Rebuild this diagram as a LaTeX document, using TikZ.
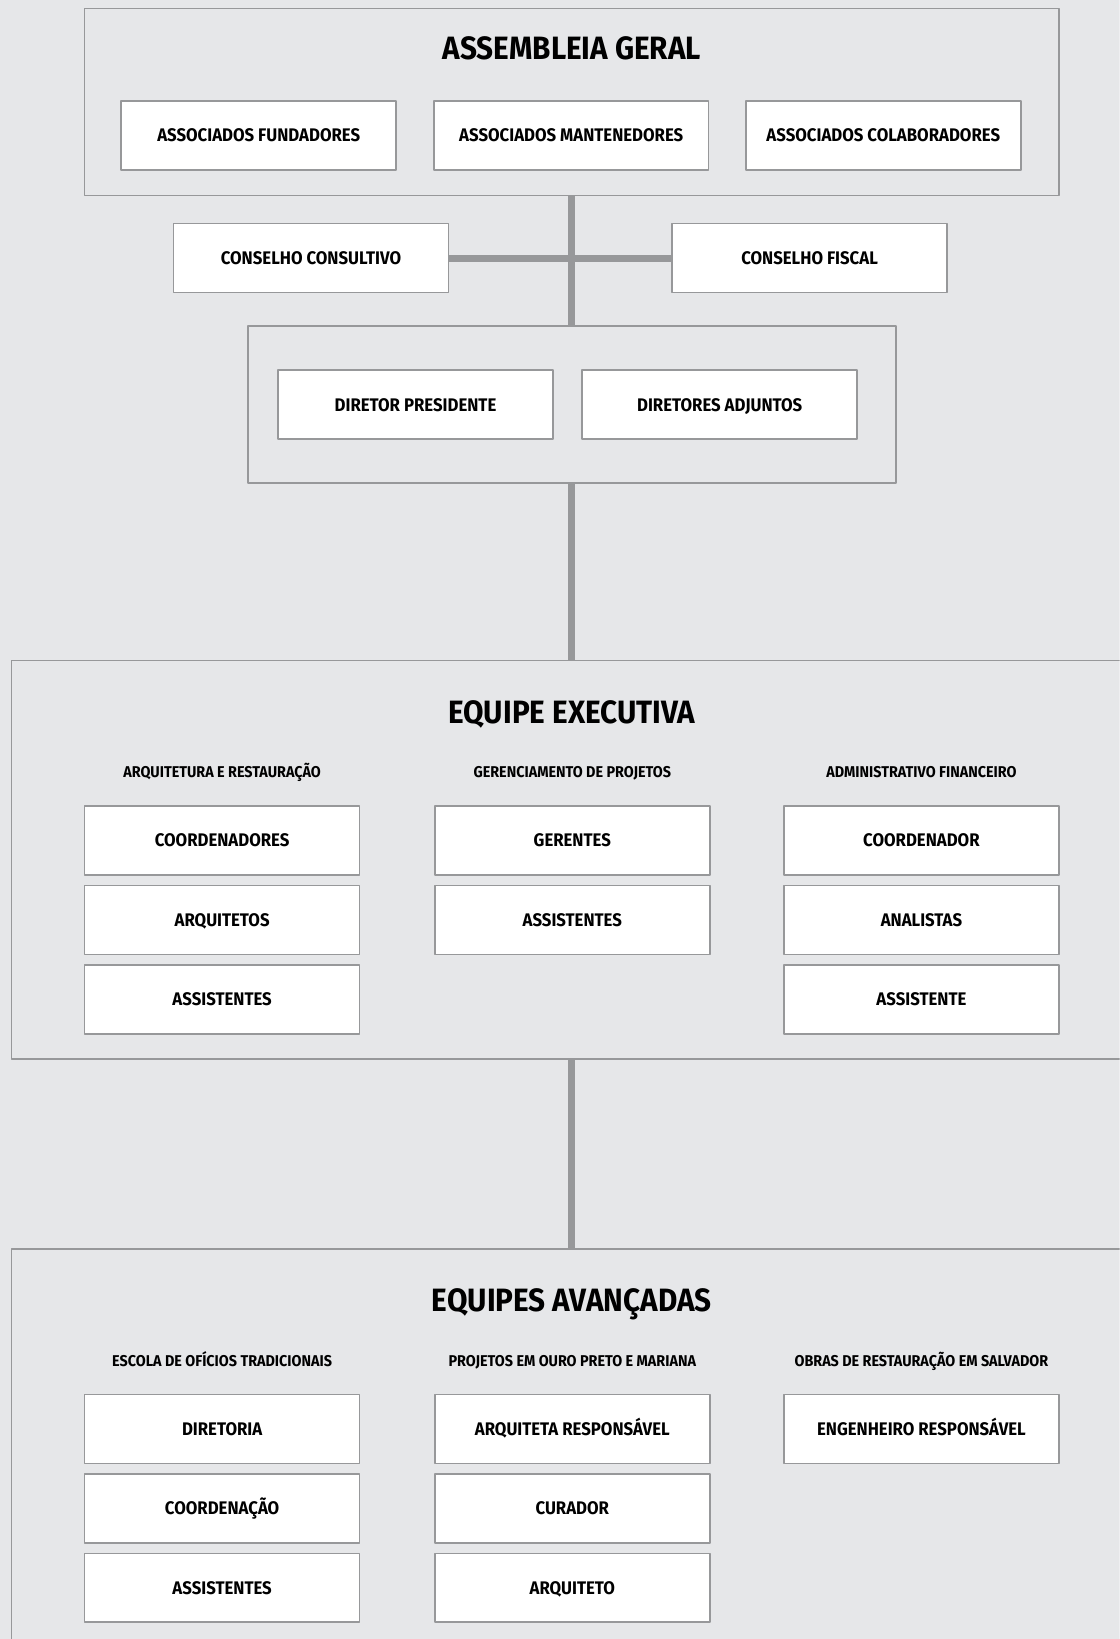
\documentclass[tikz,border=0pt]{standalone}
\usepackage{fontspec}
\setmainfont{Fira Sans}[FakeStretch=0.92]
\definecolor{bgcol}{HTML}{E6E7E9}
\definecolor{linecol}{HTML}{97989A}
\begin{document}
\begin{tikzpicture}[>=latex,line join=bevel,
  unitbox/.style={draw=linecol,line width=1.5bp,fill=white,minimum width=263bp,minimum height=66bp,inner sep=0pt,text height=12.5bp,text depth=0bp,font=\fontsize{17.5}{20}\selectfont\bfseries},
  groupbox/.style={draw=linecol,line width=1.5bp,inner sep=0pt},
  grouptitle/.style={text height=22bp,text depth=0bp,font=\fontsize{31}{36}\selectfont\bfseries},
  colhead/.style={text height=10.5bp,text depth=0bp,font=\fontsize{15}{18}\selectfont\bfseries},
  trunk/.style={draw=linecol,line width=7bp}]
%%
\clip (0bp,0bp) rectangle (1071bp,1568bp);
\fill [bgcol] (0bp,0bp) rectangle (1071bp,1568bp);
%% group frames
\node (assembleia) at (547bp,1470.5bp) [groupbox,minimum width=932bp,minimum height=179bp] {};
\node (diretoria) at (547bp,1181bp) [groupbox,minimum width=620bp,minimum height=150bp] {};
\node (executiva) at (547bp,745.5bp) [groupbox,minimum width=1072bp,minimum height=381bp] {};
\node (avancadas) at (547bp,173bp) [groupbox,minimum width=1072bp,minimum height=400bp] {};
%% titles and column heads
\node (assembleia_t) at (547bp,1522bp) [grouptitle] {ASSEMBLEIA GERAL};
\node (executiva_t) at (547bp,887bp) [grouptitle] {EQUIPE EXECUTIVA};
\node (avancadas_t) at (547bp,324bp) [grouptitle] {EQUIPES AVANÇADAS};
\node (exec_h1) at (212.5bp,829bp) [colhead] {ARQUITETURA E RESTAURAÇÃO};
\node (exec_h2) at (547.5bp,829bp) [colhead] {GERENCIAMENTO DE PROJETOS};
\node (exec_h3) at (881.5bp,829bp) [colhead] {ADMINISTRATIVO FINANCEIRO};
\node (avan_h1) at (212.5bp,266bp) [colhead] {ESCOLA DE OFÍCIOS TRADICIONAIS};
\node (avan_h2) at (547.5bp,266bp) [colhead] {PROJETOS EM OURO PRETO E MARIANA};
\node (avan_h3) at (881.5bp,266bp) [colhead] {OBRAS DE RESTAURAÇÃO EM SALVADOR};
%% connectors
\draw [trunk] (assembleia.south) -- (diretoria.north);
\draw [trunk] (diretoria.south) -- (executiva.north);
\draw [trunk] (executiva.south) -- (avancadas.north);
%% boxes
\node (ag_fund) at (247.5bp,1438.5bp) [unitbox] {ASSOCIADOS FUNDADORES};
\node (ag_mant) at (546.5bp,1438.5bp) [unitbox] {ASSOCIADOS MANTENEDORES};
\node (ag_colab) at (845bp,1438.5bp) [unitbox] {ASSOCIADOS COLABORADORES};
\node (cons_cons) at (297.5bp,1321bp) [unitbox] {CONSELHO CONSULTIVO};
\node (cons_fisc) at (774.5bp,1321bp) [unitbox] {CONSELHO FISCAL};
\draw [trunk] (cons_cons) -- (cons_fisc);
\node (dir_pres) at (397.5bp,1181bp) [unitbox] {DIRETOR PRESIDENTE};
\node (dir_adj) at (688.5bp,1181bp) [unitbox] {DIRETORES ADJUNTOS};
%
\node (arq_coord) at (212.5bp,764bp) [unitbox] {COORDENADORES};
\node (arq_arq) at (212.5bp,688bp) [unitbox] {ARQUITETOS};
\node (arq_assist) at (212.5bp,612bp) [unitbox] {ASSISTENTES};
\node (ger_ger) at (547.5bp,764bp) [unitbox] {GERENTES};
\node (ger_assist) at (547.5bp,688bp) [unitbox] {ASSISTENTES};
\node (adm_coord) at (881.5bp,764bp) [unitbox] {COORDENADOR};
\node (adm_anal) at (881.5bp,688bp) [unitbox] {ANALISTAS};
\node (adm_assist) at (881.5bp,612bp) [unitbox] {ASSISTENTE};
%
\node (esc_dir) at (212.5bp,201bp) [unitbox] {DIRETORIA};
\node (esc_coord) at (212.5bp,125bp) [unitbox] {COORDENAÇÃO};
\node (esc_assist) at (212.5bp,49bp) [unitbox] {ASSISTENTES};
\node (op_arqresp) at (547.5bp,201bp) [unitbox] {ARQUITETA RESPONSÁVEL};
\node (op_cur) at (547.5bp,125bp) [unitbox] {CURADOR};
\node (op_arq) at (547.5bp,49bp) [unitbox] {ARQUITETO};
\node (sal_eng) at (881.5bp,201bp) [unitbox] {ENGENHEIRO RESPONSÁVEL};
%
\end{tikzpicture}
\end{document}
